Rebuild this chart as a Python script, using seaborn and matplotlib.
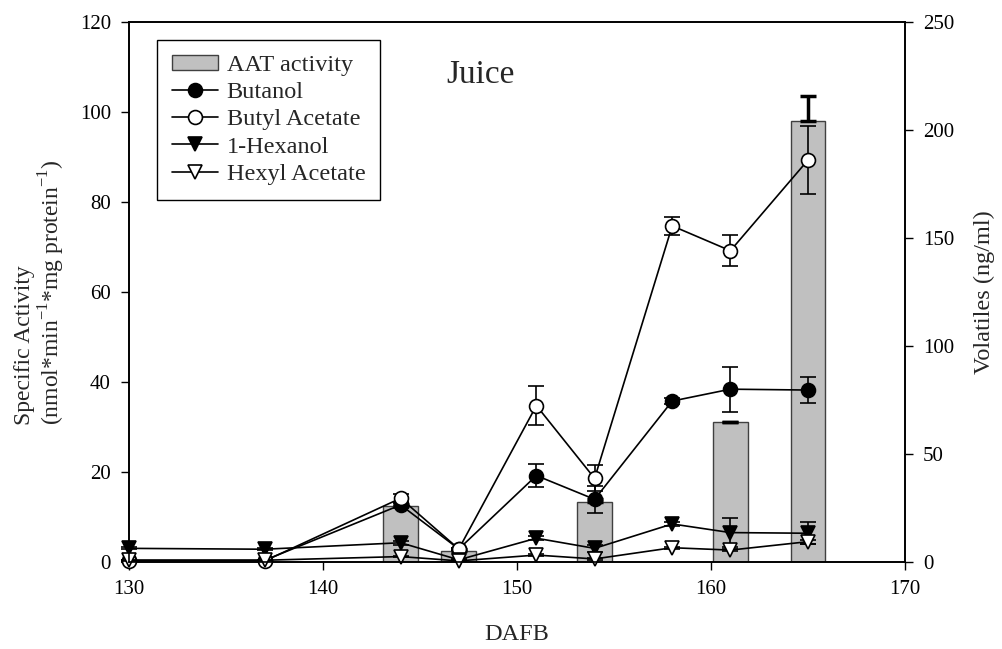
import numpy as np
import matplotlib
matplotlib.use("Agg")
import matplotlib.pyplot as plt
import seaborn as sns
from matplotlib.patches import Patch
from matplotlib.lines import Line2D

# Sampling dates (days after full bloom)
days = [130, 137, 144, 147, 151, 154, 158, 161, 165]

# AAT specific activity (left axis)
bar_days = [144, 147, 154, 161, 165]
aat_activity = [12.5, 2.5, 13.4, 31.0, 98.1]
aat_err = [0.4, 0.3, 0.5, 0.2, 5.5]

# Volatile concentrations in juice, ng/ml (right axis)
butanol = [0.8, 0.8, 26.4, 6.0, 40.0, 29.0, 74.5, 80.0, 79.6]
butanol_err = [0.3, 0.3, 1.5, 0.5, 5.2, 6.3, 1.2, 10.5, 6.0]
butyl_acetate = [0.5, 0.5, 29.5, 6.0, 72.4, 38.7, 155.6, 144.1, 186.1]
butyl_acetate_err = [0.3, 0.3, 2.0, 0.5, 9.2, 6.0, 4.0, 7.3, 15.9]
hexanol = [6.3, 5.9, 8.9, 1.0, 11.0, 6.3, 17.6, 13.6, 13.3]
hexanol_err = [0.5, 0.5, 1.0, 0.3, 1.0, 1.5, 1.0, 6.7, 5.0]
hexyl_acetate = [0.8, 0.8, 2.5, 0.5, 3.2, 1.4, 6.6, 5.5, 9.4]
hexyl_acetate_err = [0.2, 0.2, 0.3, 0.2, 0.4, 0.3, 0.5, 0.5, 1.0]

series_names = ["Butanol", "Butyl Acetate", "1-Hexanol", "Hexyl Acetate"]
series_values = [butanol, butyl_acetate, hexanol, hexyl_acetate]
series_errors = [butanol_err, butyl_acetate_err, hexanol_err, hexyl_acetate_err]
series_markers = ["o", "o", "v", "v"]
series_faces = ["black", "white", "black", "white"]

x_ticks = [130, 140, 150, 160, 170]
left_ticks = [0, 20, 40, 60, 80, 100, 120]
right_ticks = [0, 50, 100, 150, 200, 250]

sns.set_theme(style="ticks")
plt.rcParams["font.family"] = ["Liberation Serif", "DejaVu Serif"]
plt.rcParams["mathtext.fontset"] = "custom"
plt.rcParams["mathtext.rm"] = "Liberation Serif"
plt.rcParams["axes.unicode_minus"] = False

bar_face = "#c0c0c0"
bar_edge = "#404040"

fig = plt.figure(figsize=(10.03, 6.49), dpi=100)
ax = fig.add_axes([0.1286, 0.1341, 0.7737, 0.8320])

# AAT activity bars on the native DAFB scale
sns.barplot(x=bar_days, y=aat_activity, native_scale=True, width=0.6,
            color=bar_face, saturation=1, edgecolor=bar_edge, linewidth=1.0,
            errorbar=None, ax=ax, zorder=2)
ax.errorbar(bar_days, aat_activity,
            yerr=[np.zeros(len(aat_err)), aat_err],
            fmt="none", ecolor="black", elinewidth=2.5, capsize=6,
            capthick=2.5, zorder=3)

ax.set_xlim(130, 170)
ax.set_ylim(0, 120)
ax.set_xticks(x_ticks)
ax.set_xticklabels([str(t) for t in x_ticks])
ax.set_yticks(left_ticks)

# Volatiles on a secondary axis
ax2 = ax.twinx()
for vals, errs, mk, face in zip(series_values, series_errors,
                                series_markers, series_faces):
    ax2.errorbar(days, vals, yerr=errs, fmt="none", ecolor="black",
                 elinewidth=1.2, capsize=6, capthick=1.2, clip_on=False)
    sns.lineplot(x=days, y=vals, ax=ax2, color="black", linewidth=1.2,
                 marker=mk, markersize=10, markerfacecolor=face,
                 markeredgecolor="black", markeredgewidth=1.2,
                 errorbar=None, clip_on=False)

ax2.set_ylim(0, 250)
ax2.set_yticks(right_ticks)
ax2.set_xlim(130, 170)

for a in (ax, ax2):
    a.tick_params(direction="out", length=6, width=1.0, colors="black",
                  labelsize=15, pad=7)
    for s in a.spines.values():
        s.set_visible(True)
        s.set_color("black")
        s.set_linewidth(1.2)
    a.grid(False)

ax.set_xlabel("DAFB", fontsize=17.5, labelpad=18)
ax.set_ylabel("Specific Activity\n"
              "(nmol*min$^{\\mathregular{-1}}$*mg protein$^{\\mathregular{-1}}$)",
              fontsize=17, labelpad=9, linespacing=1.1,
              multialignment="left")
ax2.set_ylabel("Volatiles (ng/ml)", fontsize=17.5, labelpad=14)

ax2.text(0.4536, 0.887, "Juice", transform=ax2.transAxes, ha="center",
         va="baseline", fontsize=24)

handles = [Patch(facecolor=bar_face, edgecolor=bar_edge, linewidth=1.0)]
for mk, face in zip(series_markers, series_faces):
    handles.append(Line2D([], [], color="black", linewidth=1.2, marker=mk,
                          markersize=10, markerfacecolor=face,
                          markeredgecolor="black", markeredgewidth=1.2))
labels = ["AAT activity"] + series_names
leg = ax2.legend(handles, labels, loc="upper left",
                 bbox_to_anchor=(0.036, 0.967), borderaxespad=0,
                 fontsize=17.5, frameon=True, fancybox=False, shadow=False,
                 framealpha=1, edgecolor="black", handlelength=1.9,
                 handleheight=0.6, handletextpad=0.35, labelspacing=0.24,
                 borderpad=0.62)
leg.get_frame().set_linewidth(1.0)

fig.savefig("out.png", dpi=100, facecolor="white")
